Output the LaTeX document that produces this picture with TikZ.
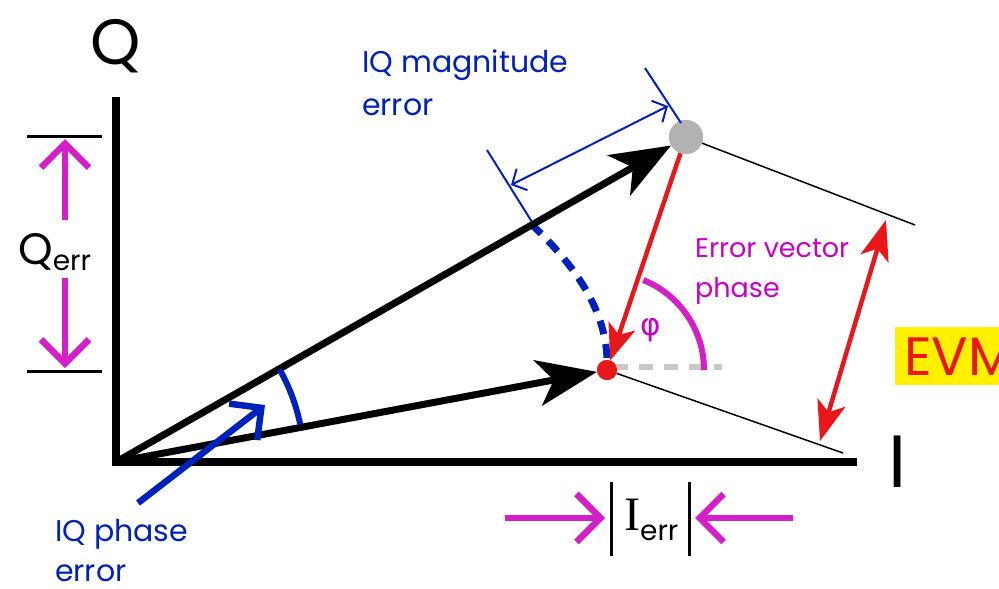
\documentclass[tikz,border=0pt]{standalone}
\usepackage{fontspec}
\setmainfont{Poppins}
\newfontfamily\greekfont{DejaVu Sans}
\newfontfamily\seriffont{Liberation Serif}
\usetikzlibrary{arrows.meta}
\definecolor{myred}{RGB}{232,24,26}
\definecolor{mymag}{RGB}{212,30,200}
\definecolor{mytextmag}{RGB}{200,0,200}
\definecolor{myblue}{RGB}{0,34,187}
\definecolor{mygray}{RGB}{178,178,178}
\definecolor{dashgray}{RGB}{200,200,200}
\definecolor{myyellow}{RGB}{255,240,0}
\newcommand{\fs}[1]{\fontsize{#1}{#1}\selectfont}
\tikzset{
  axisline/.style={line width=8pt},
  vec/.style={line width=7pt,-{Stealth[length=60pt,width=46pt,inset=16pt]}},
  thinline/.style={line width=1.5pt},
  errvec/.style={myred,line width=4.5pt,-{Stealth[length=36pt,width=28pt,inset=9pt]}},
  evmarrow/.style={myred,line width=4.5pt,{Stealth[length=40pt,width=29pt,inset=10pt]}-{Stealth[length=40pt,width=29pt,inset=10pt]}},
  magarrow/.style={mymag,line width=6.5pt,-{Straight Barb[length=24pt,width=48pt]}},
  bluearrow/.style={myblue,line width=6.5pt,-{Straight Barb[length=23pt,width=46pt]}},
  dimarrow/.style={myblue,line width=2pt,{Straight Barb[length=11pt,width=24pt]}-{Straight Barb[length=11pt,width=24pt]}},
  dimtick/.style={myblue,line width=2pt},
  tickline/.style={line width=3pt},
  bluetext/.style={text=myblue,font=\fs{30},inner sep=0pt,anchor=base west},
  magtext/.style={text=mytextmag,font=\fs{27},inner sep=0pt,anchor=base west},
  graydot/.style={circle,fill=mygray,minimum size=34pt,inner sep=0pt},
  reddot/.style={circle,fill=myred,minimum size=20pt,inner sep=0pt},
}
\begin{document}
\begin{tikzpicture}[x=1pt,y=-1pt]
\useasboundingbox (0,0) rectangle (999,589);
\clip (0,0) rectangle (999,589);
% coordinates
\coordinate (O) at (116,462);
\coordinate (Qtop) at (116,97);
\coordinate (Iend) at (857,462);
\coordinate (gEnd) at (915,225);
\coordinate (rEnd) at (843,453);
\coordinate (evA) at (886,220);
\coordinate (evB) at (820,441);
% dots (positions)
\node[graydot] (gdot) at (686,137) {};
\node[reddot] (rdot) at (607,370) {};
% blue dashed arc
\coordinate (daA) at (531,224);
\coordinate (daB) at (607,360);
\draw[myblue,line width=7pt,dash pattern=on 14pt off 10pt] (daA) .. controls (575,265) and (606,310) .. (daB);
% gray dashed reference
\coordinate (gdA) at (614,367);
\coordinate (gdB) at (722,367);
\draw[dashgray,line width=6pt,dash pattern=on 14pt off 11pt] (gdA) -- (gdB);
% thin lines
\draw[thinline] (gdot) -- (gEnd);
\draw[thinline] (rdot) -- (rEnd);
% axes
\draw[axisline] (Qtop) -- (O) -- (Iend);
% vectors
\draw[vec] (O) -- (gdot);
\draw[vec] (O) -- (rdot);
\node[graydot] (gdotTop) at (gdot) {};
\node[reddot] (rdotTop) at (rdot) {};
% error vector
\draw[errvec] (gdot) -- (rdot);
% EVM arrow
\draw[evmarrow] (evA) -- (evB);
% phase arc
\draw[mymag,line width=6pt] (rdot.center) ++(-68:97) arc[start angle=-68,end angle=0,radius=97];
\node[text=mytextmag,font=\greekfont\fs{31}] (phi) at (651,330) {φ};
\node[magtext] (evp1) at (695,257) {Error vector};
\node[magtext] (evp2) at (695,297) {phase};
% IQ phase error arc
\draw[myblue,line width=6pt] (O) ++(-29.5:188) arc[start angle=-29.5,end angle=-11.5,radius=188];
\coordinate (paT) at (138,503);
\coordinate (paH) at (265,405);
\draw[bluearrow] (paT) -- (paH);
\node[bluetext] (ipe1) at (55,541) {IQ phase};
\node[bluetext] (ipe2) at (55,581) {error};
% IQ magnitude error
\coordinate (t1a) at (645,68);
\coordinate (t1b) at (681,123);
\coordinate (t2a) at (487,150);
\coordinate (t2b) at (532,222);
\draw[dimtick] (t1a) -- (t1b);
\draw[dimtick] (t2a) -- (t2b);
\coordinate (daL) at (511,185);
\coordinate (daR) at (668,106);
\draw[dimarrow] (daL) -- (daR);
\node[bluetext] (ime1) at (362,72) {IQ magnitude};
\node[bluetext] (ime2) at (362,115) {error};
% Q axis label
\node[font=\fs{64},inner sep=0pt,anchor=base] (Qlab) at (116,64) {Q};
% I axis label
\node[font=\fs{74},inner sep=0pt,anchor=base] (Ilab) at (898,487) {I};
% Q err
\coordinate (qt1a) at (27,136);
\coordinate (qt1b) at (102,136);
\coordinate (qt2a) at (27,371);
\coordinate (qt2b) at (102,371);
\draw[tickline] (qt1a) -- (qt1b);
\draw[tickline] (qt2a) -- (qt2b);
\coordinate (qaU1) at (65,220);
\coordinate (qaU2) at (65,139);
\coordinate (qaD1) at (65,278);
\coordinate (qaD2) at (65,368);
\draw[magarrow] (qaU1) -- (qaU2);
\draw[magarrow] (qaD1) -- (qaD2);
\node[font=\fs{44},inner sep=0pt,anchor=base west] (Qerr) at (18,264) {Q\raisebox{-6pt}{\fs{28}err}};
% I err
\coordinate (ib1a) at (611,482);
\coordinate (ib1b) at (611,556);
\coordinate (ib2a) at (689,482);
\coordinate (ib2b) at (689,556);
\draw[tickline] (ib1a) -- (ib1b);
\draw[tickline] (ib2a) -- (ib2b);
\coordinate (iaL1) at (505,518);
\coordinate (iaL2) at (605,518);
\coordinate (iaR1) at (793,518);
\coordinate (iaR2) at (695,518);
\draw[magarrow] (iaL1) -- (iaL2);
\draw[magarrow] (iaR1) -- (iaR2);
\node[font=\fs{28},inner sep=0pt,anchor=base west] (Ierr) at (624,530) {{\seriffont\fs{48}I}\raisebox{-10pt}{err}};
% EVM
\node[fill=myyellow,text=myred,font=\fs{54},inner sep=0pt,anchor=north west,minimum height=58pt,text depth=0pt] (evm) at (895,327) {\,EVM\,};
\end{tikzpicture}
\end{document}
